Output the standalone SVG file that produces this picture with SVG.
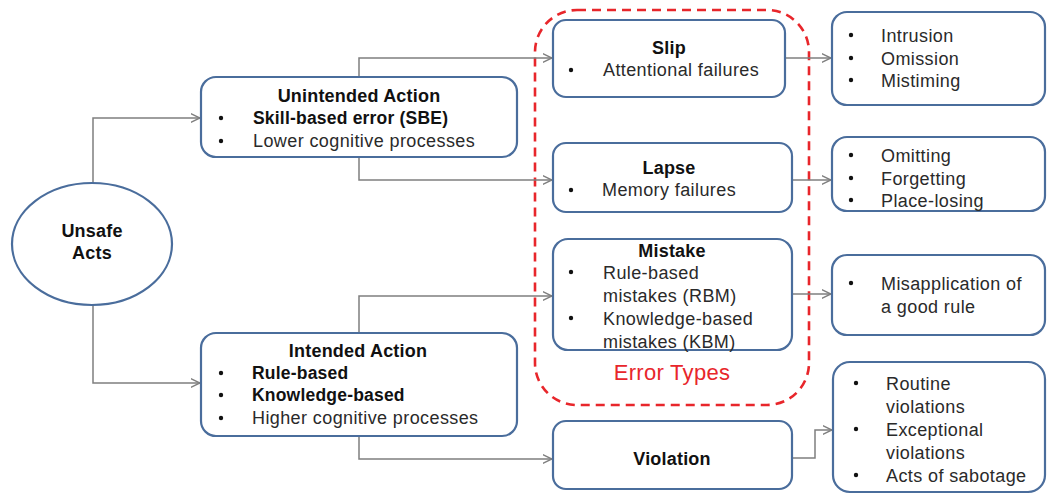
<svg xmlns="http://www.w3.org/2000/svg" width="1050" height="498" viewBox="0 0 1050 498">
  <defs>
    <marker id="arr" viewBox="0 0 10 10" refX="9.5" refY="5" markerWidth="10" markerHeight="10" markerUnits="userSpaceOnUse" orient="auto">
      <path d="M0,0.5 L9.5,5 L0,9.5" fill="none" stroke="#7f7f7f" stroke-width="1.4"/>
    </marker>
    <style>
      .box { fill: #ffffff; stroke: #4a6d9c; stroke-width: 2.2; }
      .link { fill: none; stroke: #7f7f7f; stroke-width: 1.5; marker-end: url(#arr); }
      text { font-family: "Liberation Sans", Arial, sans-serif; font-size: 18px; letter-spacing: 0.4px; fill: #2a2a2a; }
      .t { font-size: 18px; letter-spacing: 0.2px; font-weight: bold; fill: #111111; text-anchor: middle; }
      .b { font-size: 17.5px; letter-spacing: 0.2px; font-weight: bold; fill: #111111; }
      .dot { fill: #111111; }
    </style>
  </defs>
  <rect width="1050" height="498" fill="#ffffff"/>

  <!-- error-type grouping outline -->
  <g id="error-types">
    <rect x="535" y="10" width="274" height="395" rx="42" fill="none" stroke="#e8262b" stroke-width="2.6" stroke-dasharray="9,6"/>
    <text x="672" y="380" style="font-size:22px; letter-spacing:0.3px; fill:#e8262b; text-anchor:middle">Error Types</text>
  </g>

  <!-- connectors -->
  <g id="connectors">
    <path class="link" d="M93,183 V118 H200"/>
    <path class="link" d="M93,305 V383 H200"/>
    <path class="link" d="M359,77 V58 H552"/>
    <path class="link" d="M359,157 V180 H552"/>
    <path class="link" d="M359,333 V296 H552"/>
    <path class="link" d="M359,436 V459 H552"/>
    <path class="link" d="M785,58 H831"/>
    <path class="link" d="M792,180 H831"/>
    <path class="link" d="M792,294 H831"/>
    <path class="link" d="M792,458 H815 V430 H832"/>
  </g>

  <g id="unsafe-acts">
    <ellipse cx="92" cy="244" rx="80" ry="61" class="box"/>
    <text class="t" x="92" y="237">Unsafe</text>
    <text class="t" x="92" y="259">Acts</text>
  </g>

  <g id="unintended-action">
    <rect x="201" y="77" width="316" height="80" rx="15" class="box"/>
    <text class="t" x="359" y="102">Unintended Action</text>
    <circle class="dot" cx="221" cy="118" r="2.2"/>
    <text class="b" x="253" y="124">Skill-based error (SBE)</text>
    <circle class="dot" cx="221" cy="141" r="2.2"/>
    <text x="253" y="147">Lower cognitive processes</text>
  </g>

  <g id="intended-action">
    <rect x="201" y="333" width="316" height="103" rx="15" class="box"/>
    <text class="t" x="358" y="357">Intended Action</text>
    <circle class="dot" cx="221" cy="373" r="2.2"/>
    <text class="b" x="252" y="379">Rule-based</text>
    <circle class="dot" cx="221" cy="395" r="2.2"/>
    <text class="b" x="252" y="401">Knowledge-based</text>
    <circle class="dot" cx="221" cy="418" r="2.2"/>
    <text x="252" y="424">Higher cognitive processes</text>
  </g>

  <g id="slip">
    <rect x="553" y="20" width="232" height="77" rx="13" class="box"/>
    <text class="t" x="669" y="54">Slip</text>
    <circle class="dot" cx="571" cy="70" r="2.2"/>
    <text x="603" y="76">Attentional failures</text>
  </g>

  <g id="lapse">
    <rect x="553" y="143" width="239" height="69" rx="13" class="box"/>
    <text class="t" x="669" y="174">Lapse</text>
    <circle class="dot" cx="571" cy="190" r="2.2"/>
    <text x="602" y="196">Memory failures</text>
  </g>

  <g id="mistake">
    <rect x="553" y="239" width="239" height="111" rx="15" class="box"/>
    <text class="t" x="672" y="257">Mistake</text>
    <circle class="dot" cx="571" cy="272" r="2.2"/>
    <text x="603" y="279">Rule-based</text>
    <text x="603" y="302">mistakes (RBM)</text>
    <circle class="dot" cx="571" cy="318" r="2.2"/>
    <text x="603" y="325">Knowledge-based</text>
    <text x="603" y="348">mistakes (KBM)</text>
  </g>

  <g id="violation">
    <rect x="553" y="421" width="239" height="68" rx="13" class="box"/>
    <text class="t" x="672" y="465">Violation</text>
  </g>

  <g id="slip-modes">
    <rect x="832" y="12" width="213" height="93" rx="15" class="box"/>
    <circle class="dot" cx="851" cy="35" r="2.2"/>
    <text x="881" y="42">Intrusion</text>
    <circle class="dot" cx="851" cy="58" r="2.2"/>
    <text x="881" y="65">Omission</text>
    <circle class="dot" cx="851" cy="80" r="2.2"/>
    <text x="881" y="87">Mistiming</text>
  </g>

  <g id="lapse-modes">
    <rect x="832" y="137" width="213" height="74" rx="15" class="box"/>
    <circle class="dot" cx="851" cy="155" r="2.2"/>
    <text x="881" y="162">Omitting</text>
    <circle class="dot" cx="851" cy="178" r="2.2"/>
    <text x="881" y="185">Forgetting</text>
    <circle class="dot" cx="851" cy="200" r="2.2"/>
    <text x="881" y="207">Place-losing</text>
  </g>

  <g id="mistake-modes">
    <rect x="832" y="255" width="213" height="80" rx="15" class="box"/>
    <circle class="dot" cx="851" cy="283" r="2.2"/>
    <text x="881" y="290">Misapplication of</text>
    <text x="881" y="313">a good rule</text>
  </g>

  <g id="violation-modes">
    <rect x="833" y="362" width="212" height="130" rx="17" class="box"/>
    <circle class="dot" cx="856" cy="383" r="2.2"/>
    <text x="886" y="390">Routine</text>
    <text x="886" y="413">violations</text>
    <circle class="dot" cx="856" cy="429" r="2.2"/>
    <text x="886" y="436">Exceptional</text>
    <text x="886" y="459">violations</text>
    <circle class="dot" cx="856" cy="475" r="2.2"/>
    <text x="886" y="482">Acts of sabotage</text>
  </g>
</svg>
